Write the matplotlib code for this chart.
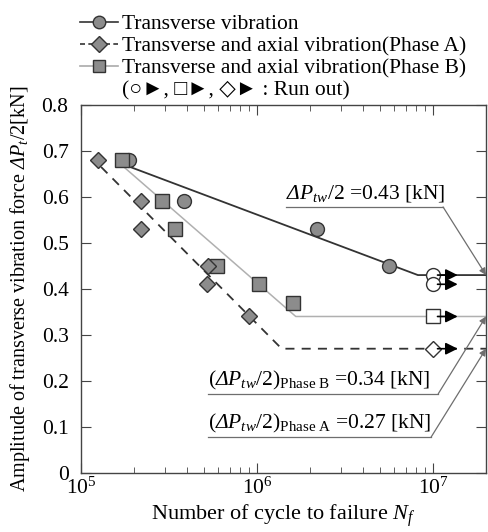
import matplotlib
matplotlib.use("Agg")
import matplotlib.pyplot as plt
from matplotlib.lines import Line2D

plt.rcParams['font.family'] = ['Liberation Serif', 'DejaVu Sans']
plt.rcParams['mathtext.fontset'] = 'custom'
plt.rcParams['mathtext.rm'] = 'Liberation Serif'
plt.rcParams['mathtext.it'] = 'Liberation Serif:italic'
plt.rcParams['mathtext.sf'] = 'Liberation Serif:italic'
plt.rcParams['mathtext.bf'] = 'Liberation Serif:bold'

# ---- data ----
tv_n = [1.87e5, 3.87e5, 2.2e6, 5.6e6]
tv_p = [0.68, 0.59, 0.53, 0.45]
tv_run_n = [1.0e7, 1.0e7]
tv_run_p = [0.43, 0.41]

pa_n = [1.25e5, 2.2e5, 2.2e5, 5.3e5, 5.2e5, 9.0e5]
pa_p = [0.68, 0.59, 0.53, 0.45, 0.41, 0.34]
pa_run_n = [1.0e7]
pa_run_p = [0.27]

pb_n = [1.7e5, 2.9e5, 3.4e5, 5.9e5, 1.03e6, 1.6e6]
pb_p = [0.68, 0.59, 0.53, 0.45, 0.41, 0.37]
pb_run_n = [1.0e7]
pb_run_p = [0.34]

# S-N fit lines (start, knee, end)
tv_line_n = [1.9e5, 8.2e6, 2.0e7]
tv_line_p = [0.665, 0.43, 0.43]
pb_line_n = [1.75e5, 1.66e6, 2.0e7]
pb_line_p = [0.665, 0.34, 0.34]
pa_line_n = [1.3e5, 1.38e6, 2.0e7]
pa_line_p = [0.665, 0.27, 0.27]

fat_limits = [0.43, 0.34, 0.27]

xticks = [1e5, 1e6, 1e7]
xticklabels = [r'$10^5$', r'$10^6$', r'$10^7$']
yticks = [0, 0.1, 0.2, 0.3, 0.4, 0.5, 0.6, 0.7, 0.8]
yticklabels = ['0', '0.1', '0.2', '0.3', '0.4', '0.5', '0.6', '0.7', '0.8']

fig = plt.figure(figsize=(4.88, 5.32), dpi=100)
ax = fig.add_axes([0.166, 0.111, 0.830, 0.692])
ax.set_xscale('log')
ax.set_xlim(1e5, 2e7)
ax.set_ylim(0, 0.8)

gray = '#8c8c8c'
dark = '#333333'
fs = 15.5
DP = r'\mathsf{\Delta}\mathit{P}'

ax.plot(tv_line_n, tv_line_p, color=dark, lw=1.3, zorder=2)
ax.plot(pb_line_n, pb_line_p, color='#b0b0b0', lw=1.1, zorder=2)
ax.plot(pa_line_n, pa_line_p, color=dark, lw=1.3, ls=(0, (5, 4)), zorder=2)

ax.plot(tv_n, tv_p, 'o', ms=10, mfc=gray, mec=dark, mew=1.0, zorder=4)
ax.plot(pb_n, pb_p, 's', ms=10, mfc=gray, mec=dark, mew=1.0, zorder=4)
ax.plot(pa_n, pa_p, 'D', ms=8, mfc=gray, mec=dark, mew=1.0, zorder=5)

ax.plot(tv_run_n, tv_run_p, 'o', ms=10, mfc='white', mec=dark, mew=1.0, zorder=5)
ax.plot(pb_run_n, pb_run_p, 's', ms=10, mfc='white', mec=dark, mew=1.0, zorder=5)
ax.plot(pa_run_n, pa_run_p, 'D', ms=8, mfc='white', mec=dark, mew=1.0, zorder=5)

for n, p in zip(tv_run_n + pb_run_n + pa_run_n, tv_run_p + pb_run_p + pa_run_p):
    ax.annotate('', xy=(n * 1.38, p), xytext=(n * 1.06, p),
                arrowprops=dict(arrowstyle='-|>', color='black', lw=1.2,
                                mutation_scale=18, shrinkA=0, shrinkB=0),
                zorder=6)

# annotations
ann_gray = '#6e6e6e'
ax.text(1.46e6, 0.585, r'$' + DP + r'_{tw}/2$ =0.43 [kN]', fontsize=fs,
        ha='left', va='bottom')
ax.plot([1.46e6, 1.14e7], [0.578, 0.578], color=ann_gray, lw=0.9)
ax.annotate('', xy=(1.0, fat_limits[0]), xycoords=('axes fraction', 'data'),
            xytext=(1.14e7, 0.578), textcoords='data',
            arrowprops=dict(arrowstyle='-|>', color=ann_gray, lw=0.9,
                            mutation_scale=10, shrinkA=0, shrinkB=0))

ax.text(5.28e5, 0.176, r'$(' + DP + r'_{tw}/2)_{\mathrm{Phase\ B}}$ =0.34 [kN]',
        fontsize=fs, ha='left', va='bottom')
ax.plot([5.28e5, 1.07e7], [0.172, 0.172], color=ann_gray, lw=0.9)
ax.annotate('', xy=(1.0, fat_limits[1]), xycoords=('axes fraction', 'data'),
            xytext=(1.07e7, 0.172), textcoords='data',
            arrowprops=dict(arrowstyle='-|>', color=ann_gray, lw=0.9,
                            mutation_scale=10, shrinkA=0, shrinkB=0))

ax.text(5.28e5, 0.082, r'$(' + DP + r'_{tw}/2)_{\mathrm{Phase\ A}}$ =0.27 [kN]',
        fontsize=fs, ha='left', va='bottom')
ax.plot([5.28e5, 9.75e6], [0.078, 0.078], color=ann_gray, lw=0.9)
ax.annotate('', xy=(1.0, fat_limits[2]), xycoords=('axes fraction', 'data'),
            xytext=(9.75e6, 0.078), textcoords='data',
            arrowprops=dict(arrowstyle='-|>', color=ann_gray, lw=0.9,
                            mutation_scale=10, shrinkA=0, shrinkB=0))

ax.set_xticks(xticks)
ax.set_xticklabels(xticklabels, fontsize=fs)
ax.set_yticks(yticks)
ax.set_yticklabels(yticklabels, fontsize=fs)
ax.tick_params(which='both', direction='in', top=True, right=True, color='#444444')
ax.tick_params(which='major', length=7, pad=3)
ax.tick_params(axis='y', which='major', pad=9)
ax.tick_params(which='minor', length=4)
for s in ax.spines.values():
    s.set_color('#444444')
    s.set_linewidth(1.0)

ax.set_xlabel(r'Number of cycle to failure $\mathit{N_f}$', fontsize=16, labelpad=3)
ax.set_ylabel(r'Amplitude of transverse vibration force $' + DP + r'_t$/2[kN]',
              fontsize=14.5, labelpad=7)

handles = [
    Line2D([], [], color=dark, lw=1.2, marker='o', ms=9, mfc=gray, mec=dark),
    Line2D([], [], color=dark, lw=1.2, ls=(0, (3, 2)), marker='D', ms=8, mfc=gray, mec=dark),
    Line2D([], [], color='#aaaaaa', lw=1.2, marker='s', ms=9, mfc=gray, mec=dark),
]
labels = ['Transverse vibration',
          'Transverse and axial vibration(Phase A)',
          'Transverse and axial vibration(Phase B)']
fig.legend(handles, labels, loc='upper left', bbox_to_anchor=(0.129, 1.006),
           frameon=False, fontsize=fs, handlelength=1.75, handletextpad=0.2,
           labelspacing=0.1, borderpad=0.3)
fig.text(0.25, 0.830, '(○►, □►, ◇► : Run out)', fontsize=fs, ha='left', va='center',
         family=['Liberation Serif', 'DejaVu Sans'])

fig.savefig('out.png', dpi=100)
